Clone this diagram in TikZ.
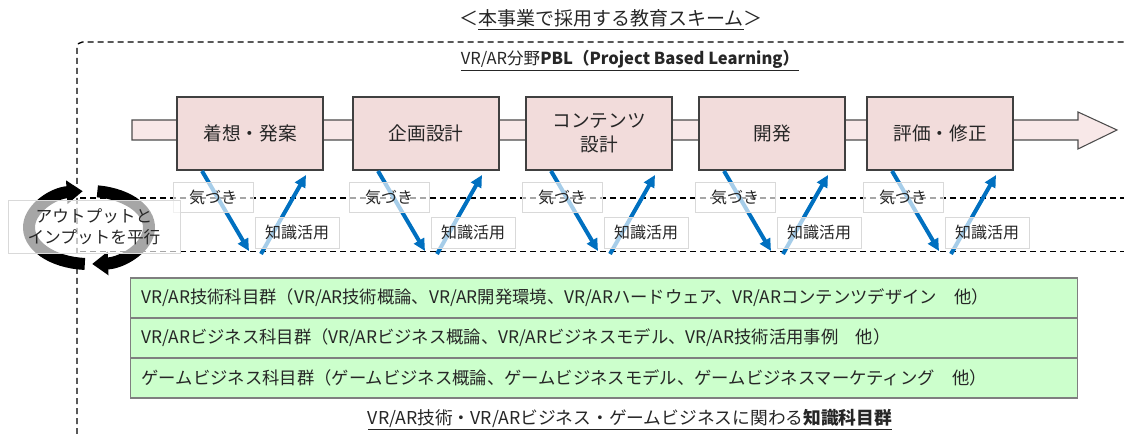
\documentclass[tikz,border=0pt]{standalone}
\usepackage{fontspec}
\setmainfont{Noto Sans CJK JP}
\usetikzlibrary{arrows.meta,shapes,positioning}

\definecolor{stagefill}{HTML}{F2DCDB}
\definecolor{flowfill}{HTML}{F8E8E8}
\definecolor{subjfill}{HTML}{CCFFCC}
\definecolor{subjline}{HTML}{7F7F7F}
\definecolor{spark}{HTML}{0070C0}
\definecolor{ink}{HTML}{262626}

\begin{document}
\begin{tikzpicture}[x=0.75pt,y=-0.75pt]
			\tikzstyle{Stage}	= [draw=black!75, fill=stagefill, line width=0.8pt, minimum width=109.5pt, minimum height=54.75pt, inner sep=0pt, align=center, text=ink, font=\fontsize{14pt}{18pt}\selectfont]
			\tikzstyle{Tag}		= [draw=black!15, fill=white, fill opacity=0.65, text opacity=1, inner sep=0pt, text=ink, font=\fontsize{12pt}{14pt}\selectfont]
			\tikzstyle{Subject}	= [draw=subjline, fill=subjfill, line width=0.8pt, anchor=west, text width=693.75pt, inner xsep=8.25pt, minimum height=30pt, align=left, text=ink, font=\fontsize{13pt}{15pt}\selectfont]
			\tikzstyle{Caption}	= [text=ink, inner sep=0pt]
			\tikzstyle{Guide}	= [dashed, dash pattern=on 4.5pt off 3pt, line width=1pt]
			\tikzstyle{Spark}	= [spark, line width=3pt, -{Triangle[length=9pt, width=8.5pt]}]
			\tikzstyle{Cycle}	= [black, line width=9pt, -{Triangle[length=12pt, width=17pt]}]

			\useasboundingbox (0,0) rectangle (1124,434);

			% outer frame and the two levels
			\draw [Guide, rounded corners=4pt] (77,434) -- (77,42) -- (1124,42);
			\coordinate (h1a) at (80,198);
			\coordinate (h1b) at (1124,198);
			\coordinate (h2a) at (80,251.5);
			\coordinate (h2b) at (1124,251.5);
			\draw [Guide] (h1a) -- (h1b);
			\draw [Guide] (h2a) -- (h2b);

			% PBL flow
			\draw [fill=flowfill, draw=black!70, line width=0.8pt] (132,120) -- (1078,120) -- (1078,112) -- (1117,130) -- (1078,149) -- (1078,140) -- (132,140) -- cycle;

			\node (s1) at (250,133.5) [Stage] {着想・発案};
			\node (s2) at (426,133.5) [Stage] {企画設計};
			\node (s3) at (599,133.5) [Stage] {コンテンツ\\設計};
			\node (s4) at (772,133.5) [Stage] {開発};
			\node (s5) at (940,133.5) [Stage] {評価・修正};

			% knowledge subjects
			\node (g1) at (130,298) [Subject] {VR/AR技術科目群（VR/AR技術概論、VR/AR開発環境、VR/ARハードウェア、VR/ARコンテンツデザイン　他）};
			\node (g2) at (130,338) [Subject] {VR/ARビジネス科目群（VR/ARビジネス概論、VR/ARビジネスモデル、VR/AR技術活用事例　他）};
			\node (g3) at (130,378) [Subject] {ゲームビジネス科目群（ゲームビジネス概論、ゲームビジネスモデル、ゲームビジネスマーケティング　他）};

			% awareness / knowledge use
			\coordinate (d1a) at (202,171);	\coordinate (d1b) at (249,251);
			\coordinate (u1a) at (261,254);	\coordinate (u1b) at (306,175);
			\coordinate (d2a) at (378,171);	\coordinate (d2b) at (425,251);
			\coordinate (u2a) at (437,254);	\coordinate (u2b) at (482,175);
			\coordinate (d3a) at (551,171);	\coordinate (d3b) at (598,251);
			\coordinate (u3a) at (610,254);	\coordinate (u3b) at (655,175);
			\coordinate (d4a) at (724,171);	\coordinate (d4b) at (771,251);
			\coordinate (u4a) at (783,254);	\coordinate (u4b) at (828,175);
			\coordinate (d5a) at (892,171);	\coordinate (d5b) at (939,251);
			\coordinate (u5a) at (951,254);	\coordinate (u5b) at (996,175);

			\draw [Spark] (d1a) -- (d1b);
			\draw [Spark] (u1a) -- (u1b);
			\draw [Spark] (d2a) -- (d2b);
			\draw [Spark] (u2a) -- (u2b);
			\draw [Spark] (d3a) -- (d3b);
			\draw [Spark] (u3a) -- (u3b);
			\draw [Spark] (d4a) -- (d4b);
			\draw [Spark] (u4a) -- (u4b);
			\draw [Spark] (d5a) -- (d5b);
			\draw [Spark] (u5a) -- (u5b);

			% output / input cycle
			\draw [Cycle] (89,227.5) ++(94:60 and 36.5) arc [start angle=94, end angle=264, x radius=60, y radius=36.5];
			\draw [Cycle] (89,227.5) ++(278:60 and 36.5) arc [start angle=278, end angle=447, x radius=60, y radius=36.5];

			\node (k1) at (213,197) [Tag, minimum width=60pt, minimum height=22.5pt] {気づき};
			\node (c1) at (297,232.5) [Tag, minimum width=63pt, minimum height=23.25pt] {知識活用};
			\node (k2) at (389,197) [Tag, minimum width=60pt, minimum height=22.5pt] {気づき};
			\node (c2) at (473,232.5) [Tag, minimum width=63pt, minimum height=23.25pt] {知識活用};
			\node (k3) at (562,197) [Tag, minimum width=60pt, minimum height=22.5pt] {気づき};
			\node (c3) at (646,232.5) [Tag, minimum width=63pt, minimum height=23.25pt] {知識活用};
			\node (k4) at (735,197) [Tag, minimum width=60pt, minimum height=22.5pt] {気づき};
			\node (c4) at (819,232.5) [Tag, minimum width=63pt, minimum height=23.25pt] {知識活用};
			\node (k5) at (903,197) [Tag, minimum width=60pt, minimum height=22.5pt] {気づき};
			\node (c5) at (987,232.5) [Tag, minimum width=63pt, minimum height=23.25pt] {知識活用};

			\node (io) at (94,226.5) [Tag, minimum width=129pt, minimum height=39.75pt, align=center, font=\fontsize{12.5pt}{15.5pt}\selectfont] {アウトプットと\\インプットを平行};

			% headings
			\node (t0) at (611,20) [Caption, font=\fontsize{14.25pt}{17pt}\selectfont] {＜\underline{本事業で採用する教育スキーム}＞};
			\node (t1) at (630,61) [Caption, font=\fontsize{12.4pt}{15pt}\selectfont] {\underline{VR/AR分野\textbf{PBL（Project Based Learning）}}};
			\node (t2) at (630,420) [Caption, font=\fontsize{13.3pt}{15pt}\selectfont] {\underline{VR/AR技術・VR/ARビジネス・ゲームビジネスに関わる\textbf{知識科目群}}};
		\end{tikzpicture}
\end{document}
